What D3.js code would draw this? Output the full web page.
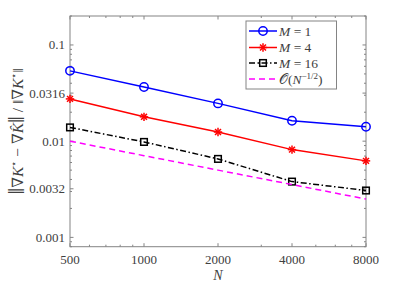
<!DOCTYPE html>
<html><head><meta charset="utf-8">
<script src="https://cdn.jsdelivr.net/npm/d3@7"></script>
<style>body{margin:0;background:#fff}svg{display:block}</style>
</head><body><svg id="c" width="395" height="287"></svg>
<script>
const N = [500, 1000, 2000, 4000, 8000];
const M1 = [0.0538, 0.0365, 0.0247, 0.0163, 0.0141];
const M4 = [0.0275, 0.0179, 0.01245, 0.00817, 0.00624];
const M16 = [0.0139, 0.00982, 0.00654, 0.0038, 0.00307];
const ref = [0.01, 0.00707, 0.005, 0.00354, 0.0025];
const yTicks = [0.001, 0.0032, 0.01, 0.0316, 0.1];
const yTickLabels = ["0.001", "0.0032", "0.01", "0.0316", "0.1"];
const xTicks = [500, 1000, 2000, 4000, 8000];
const xMinor = [600, 700, 800, 900, 3000, 5000, 6000, 7000];
const yMinor = [0.0008,0.0009,0.002,0.003,0.004,0.005,0.006,0.007,0.008,0.009,0.02,0.03,0.04,0.05,0.06,0.07,0.08,0.09,0.2];

const L = 70, R = 366, T = 16, B = 246.7;
const svg = d3.select("#c");
const x = d3.scaleLog().domain([500, 8000]).range([L, R]);
const y = d3.scaleLog().domain([0.0008, 0.2]).range([B, T]);
const axCol = "#848484", txtCol = "#404040";
const font = "'Liberation Serif','DejaVu Serif',serif";

// box
svg.append("rect").attr("x", L).attr("y", T).attr("width", R - L).attr("height", B - T)
  .attr("fill", "none").attr("stroke", axCol).attr("stroke-width", 1);

// ticks
const g = svg.append("g").attr("stroke", axCol).attr("stroke-width", 1);
xTicks.forEach(v => { const px = x(v);
  g.append("line").attr("x1", px).attr("x2", px).attr("y1", B).attr("y2", B - 3.5);
  g.append("line").attr("x1", px).attr("x2", px).attr("y1", T).attr("y2", T + 3.5); });
xMinor.forEach(v => { const px = x(v);
  g.append("line").attr("x1", px).attr("x2", px).attr("y1", B).attr("y2", B - 2);
  g.append("line").attr("x1", px).attr("x2", px).attr("y1", T).attr("y2", T + 2); });
yTicks.forEach(v => { const py = y(v);
  g.append("line").attr("y1", py).attr("y2", py).attr("x1", L).attr("x2", L + 3.5);
  g.append("line").attr("y1", py).attr("y2", py).attr("x1", R).attr("x2", R - 3.5); });
yMinor.forEach(v => { const py = y(v);
  g.append("line").attr("y1", py).attr("y2", py).attr("x1", L).attr("x2", L + 2);
  g.append("line").attr("y1", py).attr("y2", py).attr("x1", R).attr("x2", R - 2); });

// tick labels
xTicks.forEach(v => svg.append("text").attr("x", x(v)).attr("y", B + 17).attr("text-anchor", "middle")
  .attr("font-family", font).attr("font-size", 13).attr("fill", txtCol).text(v));
yTicks.forEach((v, i) => svg.append("text").attr("x", L - 5).attr("y", y(v) + 4.5).attr("text-anchor", "end")
  .attr("font-family", font).attr("font-size", 13).attr("fill", txtCol).text(yTickLabels[i]));

// axis labels
svg.append("text").attr("x", (L + R) / 2).attr("y", B + 33).attr("text-anchor", "middle")
  .attr("font-family", font).attr("font-size", 14).attr("font-style", "italic").attr("fill", txtCol).text("N");
const yl = svg.append("text").attr("transform", `translate(23,${(T + B) / 2}) rotate(-90)`)
  .attr("text-anchor", "middle").attr("font-family", font).attr("font-size", 15.5).attr("fill", txtCol);
yl.append("tspan").attr("font-size", 24).attr("dy", 1).text("‖");
yl.append("tspan").attr("dy", -1).text("∇");
yl.append("tspan").attr("font-style", "italic").text("K");
yl.append("tspan").attr("font-size", 10).attr("dy", -6).text("⋆");
yl.append("tspan").attr("dy", 6).text(" − ∇");
yl.append("tspan").attr("font-style", "italic").text("K̂");
yl.append("tspan").attr("font-size", 24).attr("dy", 1).text("‖");
yl.append("tspan").attr("dy", -1).text(" / ‖∇");
yl.append("tspan").attr("font-style", "italic").text("K");
yl.append("tspan").attr("font-size", 10).attr("dy", -6).text("⋆");
yl.append("tspan").attr("dy", 6).text("‖");

// series
const line = d3.line().x((d, i) => x(N[i])).y(d => y(d));
const series = [
  {v: M1, c: "#0000ff", dash: null, m: "circle"},
  {v: M4, c: "#ff0000", dash: null, m: "star"},
  {v: M16, c: "#000000", dash: "6,2.5,1.5,2.5", m: "square"},
  {v: ref, c: "#ff00ff", dash: "6,4", m: null}
];
function marker(sel, m, c, cx, cy) {
  if (m === "circle") sel.append("circle").attr("cx", cx).attr("cy", cy).attr("r", 4.2)
    .attr("fill", "none").attr("stroke", c).attr("stroke-width", 1.5);
  else if (m === "square") sel.append("rect").attr("x", cx - 3.3).attr("y", cy - 3.3).attr("width", 6.6).attr("height", 6.6)
    .attr("fill", "none").attr("stroke", c).attr("stroke-width", 1.5);
  else if (m === "star") {
    const r = 4.2;
    [[-r,0,r,0],[0,-r,0,r],[-r*0.7,-r*0.7,r*0.7,r*0.7],[-r*0.7,r*0.7,r*0.7,-r*0.7]].forEach(a =>
      sel.append("line").attr("x1", cx + a[0]).attr("y1", cy + a[1]).attr("x2", cx + a[2]).attr("y2", cy + a[3])
        .attr("stroke", c).attr("stroke-width", 1.5));
  }
}
series.forEach(s => {
  svg.append("path").attr("d", line(s.v)).attr("fill", "none").attr("stroke", s.c)
    .attr("stroke-width", 1.5).attr("stroke-dasharray", s.dash);
  if (s.m) s.v.forEach((d, i) => marker(svg, s.m, s.c, x(N[i]), y(d)));
});

// legend
const lg = svg.append("g");
lg.append("rect").attr("x", 246).attr("y", 21).attr("width", 90.5).attr("height", 68)
  .attr("fill", "#fff").attr("stroke", axCol).attr("stroke-width", 1);
const labels = [
  [{t: "M", i: true}, {t: " = 1"}],
  [{t: "M", i: true}, {t: " = 4"}],
  [{t: "M", i: true}, {t: " = 16"}],
  [{t: "𝒪(", i: false}, {t: "N", i: true}, {t: "−1/2", sup: true}, {t: ")", down: true}]
];
const ly = [31, 47.5, 63, 79];
series.forEach((s, k) => {
  const yy = ly[k];
  lg.append("line").attr("x1", 249).attr("x2", 277).attr("y1", yy).attr("y2", yy)
    .attr("stroke", s.c).attr("stroke-width", 1.5).attr("stroke-dasharray", s.dash);
  if (s.m) marker(lg, s.m, s.c, 263, yy);
  const t = lg.append("text").attr("x", 279).attr("y", yy + 4.5).attr("font-family", font)
    .attr("font-size", 13.5).attr("fill", txtCol);
  labels[k].forEach(p => {
    const ts = t.append("tspan").text(p.t);
    if (p.i) ts.attr("font-style", "italic");
    if (p.sup) ts.attr("font-size", 9).attr("dy", -5);
    if (p.down) ts.attr("dy", 5);
  });
});
</script></body></html>
